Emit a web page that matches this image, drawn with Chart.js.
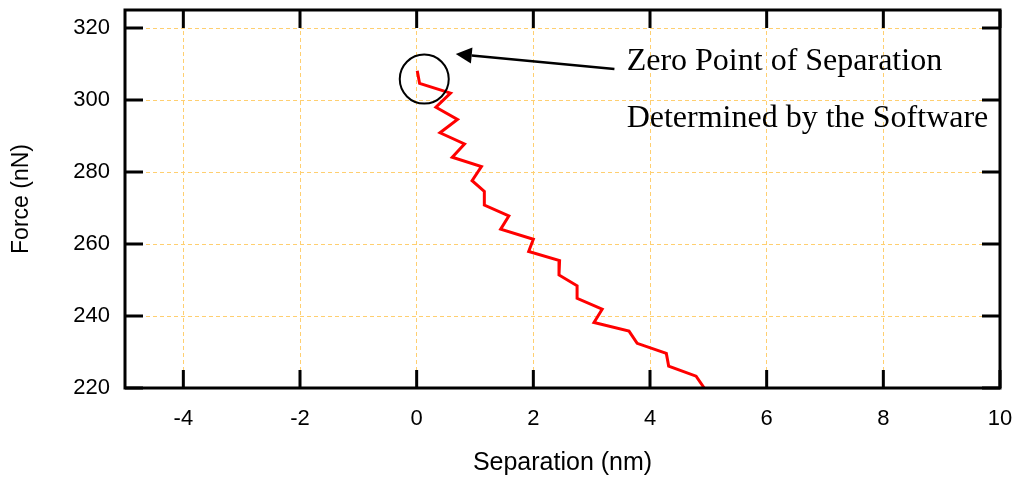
<!DOCTYPE html>
<html lang="en">
<head>
  <meta charset="UTF-8" />
  <title>Force vs Separation</title>
  <script src="https://cdn.jsdelivr.net/npm/chart.js"></script>
  <style>
    html, body { margin: 0; padding: 0; background: #fff; }
    .chart-wrapper { position: relative; width: 1016px; height: 479px; }
  </style>
</head>
<body>

<div class="chart-wrapper">
  <canvas id="forceChart"></canvas>
</div>

<script>
  // separation (nm) and force (nN) along the retract curve
  const separation = [0.01, 0.05, 0.58, 0.33, 0.70, 0.40, 0.82, 0.61, 1.11, 0.95, 1.16, 1.16, 1.58, 1.44,
    2.00, 1.92, 2.45, 2.44, 2.75, 2.75, 3.18, 3.04, 3.64, 3.78, 4.28, 4.32, 4.79, 4.93];
  const force = [308.1, 304.6, 301.9, 298.0, 294.6, 290.9, 287.8, 284.1, 281.5, 277.6, 274.6, 270.8, 267.8, 264.1,
    261.3, 257.9, 255.4, 251.4, 248.4, 244.9, 241.9, 238.2, 235.8, 232.4, 229.6, 226.1, 223.3, 220.0];

  const xTicks = [-4, -2, 0, 2, 4, 6, 8, 10];
  const yTicks = [220, 240, 260, 280, 300, 320];

  const noteLines = ['Zero Point of Separation', 'Determined by the Software'];

  const tickFont = { family: 'Liberation Sans, Arial, sans-serif', size: 22 };
  const titleFont = { family: 'Liberation Sans, Arial, sans-serif', size: 25 };
  const yTitleFont = { family: 'Liberation Sans, Arial, sans-serif', size: 23 };

  // frame, inward ticks, circle + arrow callout
  const framePlugin = {
    id: 'frame',
    afterDatasetsDraw(chart) {
      const { ctx, chartArea: a, scales: { x, y } } = chart;
      const tl = 18;
      ctx.save();
      ctx.strokeStyle = '#000';
      ctx.lineWidth = 3;
      ctx.beginPath();
      xTicks.forEach(v => {
        const px = x.getPixelForValue(v);
        ctx.moveTo(px, a.bottom); ctx.lineTo(px, a.bottom - tl);
        ctx.moveTo(px, a.top); ctx.lineTo(px, a.top + tl);
      });
      yTicks.forEach(v => {
        const py = y.getPixelForValue(v);
        ctx.moveTo(a.left, py); ctx.lineTo(a.left + tl, py);
        ctx.moveTo(a.right, py); ctx.lineTo(a.right - tl, py);
      });
      ctx.stroke();
      ctx.strokeRect(a.left, a.top, a.right - a.left, a.bottom - a.top);

      // circle round the zero point
      ctx.lineWidth = 2;
      ctx.beginPath();
      ctx.arc(x.getPixelForValue(0.13), y.getPixelForValue(305.8), 24.5, 0, Math.PI * 2);
      ctx.stroke();

      // arrow pointing at the circle
      const x0 = x.getPixelForValue(3.39), y0 = y.getPixelForValue(308.6);
      const x1 = x.getPixelForValue(0.67), y1 = y.getPixelForValue(312.8);
      const ang = Math.atan2(y1 - y0, x1 - x0);
      const head = 16, half = 8;
      const bx = x1 - head * Math.cos(ang), by = y1 - head * Math.sin(ang);
      ctx.lineWidth = 2.5;
      ctx.beginPath();
      ctx.moveTo(x0, y0); ctx.lineTo(bx, by);
      ctx.stroke();
      ctx.fillStyle = '#000';
      ctx.beginPath();
      ctx.moveTo(x1, y1);
      ctx.lineTo(bx + half * Math.sin(ang), by - half * Math.cos(ang));
      ctx.lineTo(bx - half * Math.sin(ang), by + half * Math.cos(ang));
      ctx.closePath();
      ctx.fill();

      ctx.font = '32px "Liberation Serif", "Times New Roman", serif';
      ctx.textBaseline = 'alphabetic';
      ctx.textAlign = 'left';
      const tx = x.getPixelForValue(3.6);
      ctx.fillText(noteLines[0], tx, y.getPixelForValue(308.3));
      ctx.fillText(noteLines[1], tx, y.getPixelForValue(292.6));
      ctx.restore();
    }
  };

  new Chart(document.getElementById('forceChart'), {
    type: 'line',
    data: {
      datasets: [{
        data: separation.map((s, i) => ({ x: s, y: force[i] })),
        borderColor: '#ff0000',
        borderWidth: 3,
        pointRadius: 0,
        tension: 0,
        fill: false
      }]
    },
    options: {
      responsive: true,
      maintainAspectRatio: false,
      animation: false,
      layout: { padding: { left: 0, right: 16, top: 10, bottom: 0 } },
      plugins: {
        legend: { display: false },
        tooltip: { enabled: false }
      },
      scales: {
        x: {
          type: 'linear',
          min: -5,
          max: 10,
          afterBuildTicks: s => { s.ticks = xTicks.map(v => ({ value: v })); },
          afterFit: s => { s.height = 91; s.paddingLeft = 0; s.paddingRight = 0; },
          grid: { color: '#ffcf70', lineWidth: 1, drawTicks: false },
          border: { display: false, dash: [4, 3] },
          ticks: { color: '#000', font: tickFont, padding: 18, maxRotation: 0 },
          title: { display: true, text: 'Separation (nm)', color: '#000', font: titleFont, padding: { top: 0, bottom: 1 } }
        },
        y: {
          min: 220,
          max: 325,
          afterBuildTicks: s => { s.ticks = yTicks.map(v => ({ value: v })); },
          afterFit: s => { s.width = 125; s.paddingTop = 0; s.paddingBottom = 0; },
          grid: { color: '#ffcf70', lineWidth: 1, drawTicks: false },
          border: { display: false, dash: [4, 3] },
          ticks: { color: '#000', font: tickFont, padding: 15 },
          title: { display: true, text: 'Force (nN)', color: '#000', font: yTitleFont, padding: 8 }
        }
      }
    },
    plugins: [framePlugin]
  });
</script>

</body>
</html>
